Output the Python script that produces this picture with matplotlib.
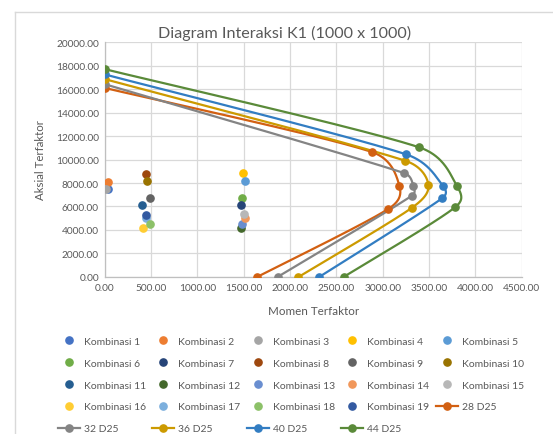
import numpy as np
import matplotlib.pyplot as plt
from matplotlib.lines import Line2D

plt.rcParams['font.family'] = ['Lato', 'DejaVu Sans']

# load combinations (moment, axial)
komb_names = [f'Kombinasi {i}' for i in range(1, 20)]
komb_m = [34, 41, 16, 1496, 1517, 1485, 1467, 444, 494, 455,
          400, 1471, 1485, 1517, 1503, 411, 450, 490, 447]
komb_p = [7460, 8110, 7490, 8820, 8170, 6750, 6130, 8790, 6720, 8170,
          6100, 4170, 4480, 5050, 5330, 4200, 5050, 4480, 5280]
komb_colors = ['#4472C4', '#ED7D31', '#A5A5A5', '#FFC000', '#5B9BD5', '#70AD47',
               '#264478', '#9E480E', '#636363', '#997300', '#255E91', '#43682B',
               '#698ED0', '#F1975A', '#B7B7B7', '#FFCD33', '#7CAFDD', '#8CC168',
               '#335AA1']

# interaction curves per reinforcement layout
curve_names = ['28 D25', '32 D25', '36 D25', '40 D25', '44 D25']
curve_m = [[0, 2880, 3180, 3060, 1645],
           [0, 3230, 3330, 3315, 1866],
           [0, 3242, 3493, 3317, 2092],
           [0, 3252, 3648, 3644, 2315],
           [0, 3393, 3799, 3785, 2578]]
curve_p = [[16100, 10650, 7770, 5790, 0],
           [16420, 8850, 7770, 6920, 0],
           [16850, 9900, 7860, 5900, 0],
           [17250, 10440, 7770, 6720, 0],
           [17700, 11040, 7770, 5960, 0]]
curve_colors = ['#D26012', '#848484', '#CC9A00', '#327DC2', '#5A8A39']

text_color = '#595959'
grid_color = '#D9D9D9'


def smooth(ax, x, y, n=60):
    # bezier smoothing in screen space; arms are (next - prev)/6,
    # clamped to half of the segment they reach into
    trans = ax.transData
    pts = trans.transform(np.column_stack([x, y]).astype(float))
    ext = np.vstack([pts[0], pts, pts[-1]])
    t = np.linspace(0, 1, n)[:, None]
    out = []
    for i in range(len(pts) - 1):
        p0, p3 = ext[i + 1], ext[i + 2]
        seg_len = np.linalg.norm(p3 - p0)
        a0 = (ext[i + 2] - ext[i]) / 6
        a1 = (ext[i + 3] - ext[i + 1]) / 6
        for a in (a0, a1):
            la = np.linalg.norm(a)
            if la > seg_len / 2:
                a *= (seg_len / 2) / la
        c1 = p0 + a0
        c2 = p3 - a1
        seg = ((1 - t) ** 3) * p0 + 3 * ((1 - t) ** 2) * t * c1 + 3 * (1 - t) * t ** 2 * c2 + t ** 3 * p3
        out.append(seg)
    s = trans.inverted().transform(np.vstack(out))
    return s[:, 0], s[:, 1]


fig = plt.figure(figsize=(5.53, 4.35), dpi=100)
ax = fig.add_axes([0.189, 0.361, 0.7545, 0.540])
ax.set_xlim(0, 4500)
ax.set_ylim(0, 20000)

handles = []
for name, m, p, c in zip(komb_names, komb_m, komb_p, komb_colors):
    ax.plot(m, p, 'o', color=c, markersize=5.2, zorder=3)
    handles.append(Line2D([], [], marker='o', linestyle='none', color=c, markersize=5.2, label=name))

for name, m, p, c in zip(curve_names, curve_m, curve_p, curve_colors):
    sx, sy = smooth(ax, m, p)
    ax.plot(sx, sy, '-', color=c, linewidth=1.6, zorder=2)
    ax.plot(m, p, 'o', color=c, markersize=5.2, zorder=3)
    handles.append(Line2D([], [], marker='o', color=c, linewidth=1.6, markersize=5.2, label=name))

ax.set_xticks(np.arange(0, 4501, 500))
ax.set_yticks(np.arange(0, 20001, 2000))
ax.set_xticklabels([f'{v:.2f}' for v in np.arange(0, 4501, 500)])
ax.set_yticklabels([f'{v:.2f}' for v in np.arange(0, 20001, 2000)])
ax.tick_params(colors=text_color, labelsize=7.3, length=0, pad=4)
ax.grid(True, color=grid_color, linewidth=0.9)
ax.set_axisbelow(True)
for side in ['top', 'right']:
    ax.spines[side].set_visible(False)
for side in ['left', 'bottom']:
    ax.spines[side].set_color('#BFBFBF')
    ax.spines[side].set_linewidth(0.9)

fig.text(285 / 553, 1 - 33 / 435, 'Diagram Interaksi K1 (1000 x 1000)', color=text_color,
         fontsize=11.6, ha='center', va='center')
ax.set_xlabel('Momen Terfaktor', color=text_color, fontsize=8.4, labelpad=10)
ax.set_ylabel('Aksial Terfaktor', color=text_color, fontsize=8.3, labelpad=7)

# row-major ordering for a 5-column legend
order = []
for col in range(5):
    order += [handles[i] for i in range(col, len(handles), 5)]
leg = fig.legend(handles=order, ncol=5, loc='upper left', bbox_to_anchor=(0.088, 0.245),
                 frameon=False, fontsize=7.5, handlelength=2.1, handletextpad=0.4,
                 columnspacing=0.6, labelspacing=1.2)
for t in leg.get_texts():
    t.set_color(text_color)

# chart area border (only top and left inside the frame)
fig.add_artist(Line2D([15 / 553, 1], [1 - 12.5 / 435] * 2, color=grid_color, linewidth=1))
fig.add_artist(Line2D([15 / 553] * 2, [0, 1 - 12.5 / 435], color=grid_color, linewidth=1))

fig.savefig('out.png', dpi=100)
